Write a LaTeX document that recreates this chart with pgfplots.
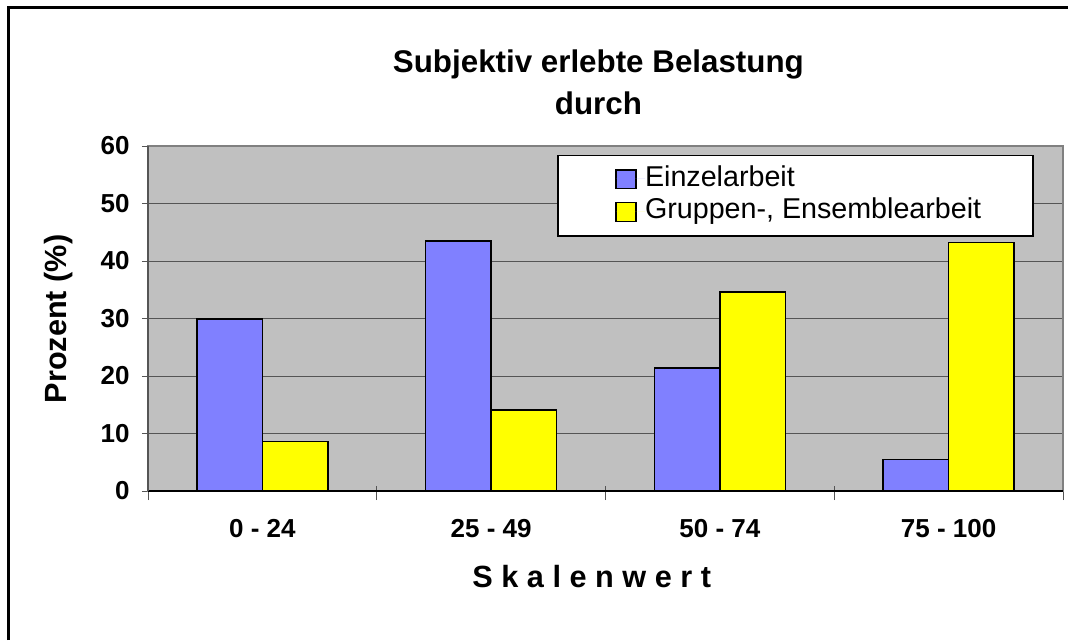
\documentclass[border=0pt]{standalone}
\usepackage{fontspec}
\setmainfont{Liberation Sans}
\usepackage{pgfplots}
\pgfplotsset{compat=1.18}
\definecolor{barblue}{HTML}{8080FF}
\definecolor{baryellow}{HTML}{FFFF00}
\definecolor{plotgray}{HTML}{C0C0C0}
\definecolor{gridgray}{HTML}{555555}
\definecolor{framegray}{HTML}{808080}
\begin{document}
\begin{tikzpicture}
\path[use as bounding box] (0,0) rectangle (801pt,480pt);
\draw[line width=2.25pt] (6pt,0pt) -- (6pt,474pt) -- (801pt,474pt);
\begin{axis}[
  at={(111pt,111.75pt)}, anchor=south west,
  scale only axis, width=686.25pt, height=258.75pt,
  xmin=-0.5, xmax=3.5, ymin=0, ymax=60,
  ybar=0pt, bar width=49.1pt,
  axis background/.style={fill=plotgray},
  axis line style={draw=framegray, line width=1.1pt},
  ytick={0,10,...,60},
  xtick={0,1,2,3},
  xticklabels={0 - 24, 25 - 49, 50 - 74, 75 - 100},
  minor xtick={-0.5,0.5,1.5,2.5,3.5},
  tick pos=left,
  major x tick style={draw=none},
  tick align=outside,
  major tick length=4.5pt,
  minor tick length=10.5pt,
  minor x tick style={yshift=3.75pt, draw=gridgray, line width=0.75pt},
  major y tick style={draw=gridgray, line width=0.75pt},
  ymajorgrids,
  major grid style={draw=gridgray, line width=0.75pt},
  tick label style={font=\bfseries\fontsize{19.5}{22}\selectfont},
  /pgf/number format/assume math mode=true,
  xticklabel style={anchor=base, yshift=-30.5pt},
  yticklabel style={xshift=-5.75pt},
  clip=false,
  legend style={draw=none, fill=none, at={(rel axis cs:0.5104,0.8577)}, anchor=west,
    inner sep=0pt, row sep=5.5pt, font=\fontsize{21.5}{24}\selectfont,
    nodes={inner sep=0pt, text height=15pt, text depth=4pt}},
  legend cell align=left,
]
\draw[draw=black, line width=0.9pt, fill=white] (rel axis cs:0.4481,0.7391) rectangle (rel axis cs:0.9672,0.9719);
\addplot[fill=barblue, draw=black, line width=1.1pt,
  legend image code/.code={\draw[fill=barblue, draw=black, line width=1.1pt] (0pt,-7.4pt) rectangle (15pt,6.6pt); \path[draw=none] (0pt,0pt) -- (21.75pt,0pt);}]
  coordinates {(0,29.9) (1,43.5) (2,21.4) (3,5.5)};
\addplot[fill=baryellow, draw=black, line width=1.1pt,
  legend image code/.code={\draw[fill=baryellow, draw=black, line width=1.1pt] (0pt,-7.4pt) rectangle (15pt,6.6pt); \path[draw=none] (0pt,0pt) -- (21.75pt,0pt);}]
  coordinates {(0,8.6) (1,14.1) (2,34.6) (3,43.2)};
\legend{Einzelarbeit, {Gruppen-, Ensemblearbeit}}
\draw[black, line width=1.1pt] (rel axis cs:0,0) -- (rel axis cs:1,0);
\draw[gridgray, line width=1.1pt] (rel axis cs:0,0) -- (rel axis cs:0,1);
\end{axis}
\node[anchor=base, font=\bfseries\fontsize{23.5}{25}\selectfont] at (448.8pt,425.5pt) {Subjektiv erlebte Belastung};
\node[anchor=base, font=\bfseries\fontsize{23.5}{25}\selectfont] at (448.8pt,393.75pt) {durch};
\node[anchor=base, rotate=90, font=\bfseries\fontsize{23}{25}\selectfont] at (49.5pt,240.75pt) {Prozent (\%)};
\node[anchor=base, font=\bfseries\fontsize{23}{25}\selectfont] at (443.8pt,39.75pt) {S k a l e n w e r t};
\end{tikzpicture}
\end{document}
